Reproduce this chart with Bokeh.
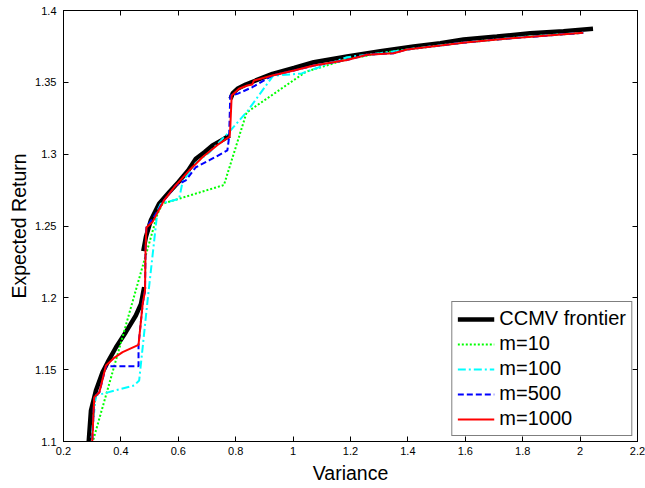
from bokeh.plotting import figure
from bokeh.models import LinearAxis, FixedTicker, NumeralTickFormatter, Legend, LegendItem
from bokeh.embed import file_html
from bokeh.resources import INLINE

nan = float("nan")

# CCMV frontier (NaN marks the breaks in the frontier)
ccmv_x = [0.282, 0.2877, 0.2957, 0.313, 0.336, 0.354, 0.383, 0.417, 0.452, 0.470, 0.481, nan,
          0.478, 0.487, 0.504, 0.533, 0.568, 0.600, 0.635, 0.661, 0.692, 0.719, 0.750, 0.779, nan,
          0.782, 0.790, 0.806, 0.835, 0.870, 0.928, 1.003, 1.072, 1.188, 1.304, 1.420, 1.513,
          1.594, 1.710, 1.826, 1.942, 2.045]
ccmv_y = [1.095, 1.0995, 1.1216, 1.1355, 1.1482, 1.1552, 1.1656, 1.1761, 1.1877, 1.1958, 1.2074, nan,
          1.2325, 1.2422, 1.2538, 1.2655, 1.2735, 1.2805, 1.2888, 1.2968, 1.3015, 1.3060, 1.3095, 1.3130, nan,
          1.3385, 1.3425, 1.3455, 1.3485, 1.3513, 1.3559, 1.3600, 1.3640, 1.3680, 1.3717, 1.3750, 1.3772,
          1.3798, 1.3819, 1.3842, 1.3856, 1.3873]

# m=10
m10_x = [0.297, 0.3015, 0.5277, 0.545, 0.759, 0.838, 1.046, 1.188, 1.304, 1.420, 1.600, 1.800, 2.000]
m10_y = [1.093, 1.0995, 1.2585, 1.2655, 1.2785, 1.3290, 1.3575, 1.3660, 1.3703, 1.3735, 1.3778, 1.3815, 1.3843]

# m=100
m100_x = [0.292, 0.2957, 0.313, 0.4463, 0.4637, 0.493, 0.5276, 0.539, 0.6028, 0.6146, 0.661, 0.707,
          0.754, 0.780, 0.841, 0.930, 1.030, 1.188, 1.304, 1.420, 1.600, 1.800, 2.011]
m100_y = [1.095, 1.0995, 1.1320, 1.1390, 1.1425, 1.1982, 1.2608, 1.2655, 1.2689, 1.2805, 1.2940, 1.3010,
          1.3107, 1.3160, 1.3300, 1.3545, 1.3562, 1.3675, 1.3703, 1.3735, 1.3778, 1.3815, 1.3845]

# m=500
m500_x = [0.297, 0.300, 0.307, 0.325, 0.348, 0.4614, 0.4614, 0.476, 0.484, 0.486, 0.489, 0.520, 0.550,
          0.591, 0.626, 0.661, 0.707, 0.771, 0.777, 0.781, 0.806, 0.858, 0.928, 1.003, 1.072, 1.188,
          1.258, 1.350, 1.397, 1.513, 1.600, 1.750, 1.900, 2.011]
m500_y = [1.095, 1.0995, 1.1308, 1.1343, 1.1524, 1.1524, 1.1673, 1.1960, 1.2050, 1.2350, 1.2490, 1.2580,
          1.2678, 1.2782, 1.2817, 1.2909, 1.2956, 1.3026, 1.3118, 1.3408, 1.3420, 1.3466, 1.3548, 1.3582,
          1.3617, 1.3655, 1.3692, 1.3703, 1.3729, 1.3756, 1.3778, 1.3805, 1.3828, 1.3845]

# m=1000
m1000_x = [0.297, 0.300, 0.307, 0.325, 0.348, 0.375, 0.406, 0.4614, 0.476, 0.484, 0.486, 0.489, 0.510,
           0.550, 0.591, 0.6376, 0.684, 0.742, 0.779, 0.781, 0.786, 0.8115, 0.8406, 0.858, 0.8637, 0.928,
           1.003, 1.072, 1.188, 1.258, 1.350, 1.397, 1.513, 1.600, 1.750, 1.900, 2.011]
m1000_y = [1.095, 1.0995, 1.1308, 1.1343, 1.1529, 1.1580, 1.1622, 1.1673, 1.1960, 1.2050, 1.2350, 1.2490,
           1.2527, 1.2678, 1.2782, 1.2886, 1.2979, 1.3072, 1.3123, 1.3180, 1.3408, 1.3455, 1.3478, 1.3485,
           1.3513, 1.3548, 1.3582, 1.3617, 1.3655, 1.3692, 1.3703, 1.3729, 1.3756, 1.3778, 1.3805, 1.3828,
           1.3845]

x_ticks = [0.2, 0.4, 0.6, 0.8, 1.0, 1.2, 1.4, 1.6, 1.8, 2.0, 2.2]
y_ticks = [1.1, 1.15, 1.2, 1.25, 1.3, 1.35, 1.4]

FONT = "Liberation Sans"

p = figure(width=645, height=488, x_range=(0.2, 2.2), y_range=(1.1, 1.4),
           output_backend="svg", toolbar_location=None,
           min_border_left=63, min_border_right=8, min_border_top=10, min_border_bottom=47)
p.grid.visible = False
p.outline_line_color = "black"
p.outline_line_width = 1
p.background_fill_color = "white"
p.border_fill_color = "white"

for ax in (p.xaxis[0], p.yaxis[0]):
    ax.major_tick_in = 5
    ax.major_tick_out = 0
    ax.minor_tick_line_color = None
    ax.axis_line_color = "black"
    ax.major_tick_line_color = "black"
    ax.major_label_text_font = FONT
    ax.major_label_text_font_size = "11px"
    ax.major_label_text_color = "black"
    ax.axis_label_text_font = FONT
    ax.axis_label_text_font_size = "19.5px"
    ax.axis_label_text_font_style = "normal"
    ax.axis_label_text_color = "black"

p.xaxis[0].ticker = FixedTicker(ticks=x_ticks)
p.yaxis[0].ticker = FixedTicker(ticks=y_ticks)
p.xaxis[0].formatter = NumeralTickFormatter(format="0.[0]")
p.yaxis[0].formatter = NumeralTickFormatter(format="0.[00]")
p.xaxis[0].axis_label = "Variance"
p.yaxis[0].axis_label = "Expected Return"
p.xaxis[0].major_label_standoff = 5
p.xaxis[0].axis_label_standoff = 4
p.yaxis[0].major_label_standoff = 7
p.yaxis[0].axis_label_standoff = 2

top = LinearAxis(ticker=FixedTicker(ticks=x_ticks), major_label_text_font_size="1px",
                 major_label_text_color=None, major_tick_in=5, major_tick_out=0,
                 minor_tick_line_color=None, major_label_standoff=0)
right = LinearAxis(ticker=FixedTicker(ticks=y_ticks), major_label_text_font_size="1px",
                   major_label_text_color=None, major_tick_in=5, major_tick_out=0,
                   minor_tick_line_color=None, major_label_standoff=0)
p.add_layout(top, "above")
p.add_layout(right, "right")

r0 = p.line(ccmv_x, ccmv_y, line_color="black", line_width=4.5)
r1 = p.line(m10_x, m10_y, line_color="#00ff00", line_width=2, line_dash="2 2")
r2 = p.line(m100_x, m100_y, line_color="#00ffff", line_width=2, line_dash="8 3 2 3")
r3 = p.line(m500_x, m500_y, line_color="#0000ff", line_width=2, line_dash="6 3")
r4 = p.line(m1000_x, m1000_y, line_color="#ff0000", line_width=2)

legend = Legend(items=[
    LegendItem(label="CCMV frontier", renderers=[r0]),
    LegendItem(label="m=10", renderers=[r1]),
    LegendItem(label="m=100", renderers=[r2]),
    LegendItem(label="m=500", renderers=[r3]),
    LegendItem(label="m=1000", renderers=[r4]),
], location="bottom_right")
legend.margin = 5
legend.padding = 5
legend.spacing = 2
legend.glyph_width = 37
legend.glyph_height = 22
legend.label_height = 22
legend.label_standoff = 5
legend.label_text_font = FONT
legend.label_text_font_size = "20px"
legend.label_text_color = "black"
legend.border_line_color = "black"
legend.border_line_width = 1
legend.background_fill_color = "white"
legend.background_fill_alpha = 1
p.add_layout(legend, "center")

open("out.html", "w").write(file_html(p, INLINE))
